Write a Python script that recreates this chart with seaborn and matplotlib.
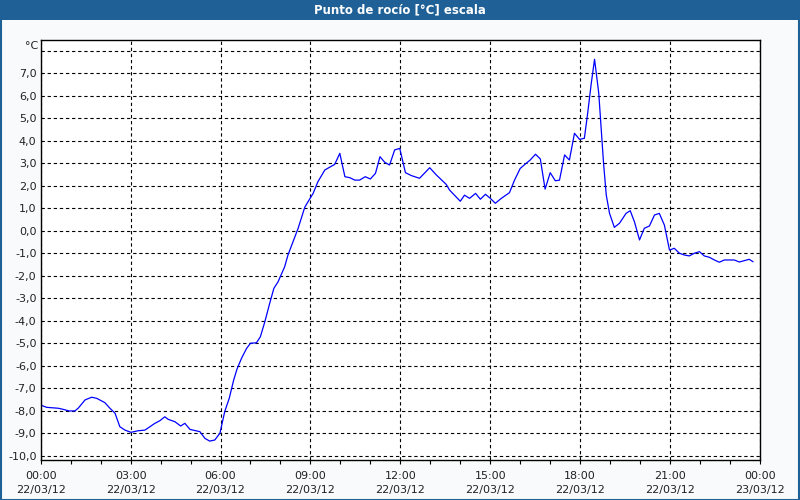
import matplotlib
matplotlib.use("Agg")
import matplotlib.pyplot as plt
from matplotlib.patches import Rectangle
from matplotlib.ticker import MultipleLocator, FixedLocator
import seaborn as sns
import pandas as pd

# ---- data (hours since 22/03/12 00:00, dew point in °C) ----
hours = [0.00, 0.20, 0.59, 0.75, 0.95, 1.14, 1.25, 1.48, 1.70, 1.87, 2.14, 2.31, 2.48, 2.64,
         2.81, 3.01, 3.25, 3.48, 3.81, 3.98, 4.14, 4.25, 4.48, 4.67, 4.81, 4.98, 5.31, 5.48,
         5.64, 5.81, 5.98, 6.14, 6.29, 6.44, 6.55, 6.70, 6.87, 7.00, 7.20, 7.33, 7.48, 7.64,
         7.78, 7.92, 8.14, 8.25, 8.42, 8.59, 8.81, 8.92, 9.09, 9.25, 9.48, 9.64, 9.81, 9.98,
         10.15, 10.31, 10.48, 10.64, 10.83, 11.00, 11.17, 11.32, 11.48, 11.64, 11.81, 11.98,
         12.17, 12.37, 12.64, 12.98, 13.20, 13.53, 13.64, 14.00, 14.14, 14.31, 14.51, 14.67,
         14.84, 15.00, 15.17, 15.37, 15.64, 15.81, 16.00, 16.20, 16.33, 16.51, 16.67, 16.83,
         17.00, 17.17, 17.31, 17.48, 17.64, 17.81, 17.98, 18.14, 18.25, 18.37, 18.48, 18.62,
         18.78, 18.87, 18.98, 19.14, 19.31, 19.53, 19.67, 19.81, 19.98, 20.14, 20.31, 20.48,
         20.64, 20.81, 20.98, 21.14, 21.31, 21.48, 21.64, 21.81, 21.98, 22.14, 22.31, 22.48,
         22.64, 22.81, 22.98, 23.14, 23.31, 23.48, 23.64, 23.77]
dew_point = [-7.76, -7.86, -7.90, -7.95, -8.02, -8.02, -7.90, -7.53, -7.41, -7.46, -7.65, -7.90,
             -8.12, -8.72, -8.87, -8.97, -8.90, -8.87, -8.57, -8.45, -8.28, -8.39, -8.50, -8.69,
             -8.57, -8.84, -8.94, -9.24, -9.36, -9.31, -9.01, -8.05, -7.46, -6.64, -6.16, -5.68,
             -5.24, -5.01, -4.99, -4.72, -4.05, -3.24, -2.57, -2.28, -1.61, -1.09, -0.50, 0.10,
             1.03, 1.28, 1.65, 2.17, 2.69, 2.81, 2.94, 3.43, 2.39, 2.35, 2.24, 2.24, 2.39, 2.29,
             2.54, 3.28, 3.03, 2.91, 3.58, 3.65, 2.57, 2.44, 2.32, 2.79, 2.47, 2.05, 1.80, 1.30,
             1.57, 1.43, 1.65, 1.39, 1.61, 1.43, 1.21, 1.43, 1.68, 2.24, 2.76, 2.99, 3.13, 3.39,
             3.18, 1.84, 2.57, 2.21, 2.24, 3.36, 3.13, 4.32, 4.05, 4.10, 5.21, 6.54, 7.61, 6.10,
             2.99, 1.58, 0.76, 0.14, 0.32, 0.76, 0.88, 0.39, -0.42, 0.10, 0.20, 0.69, 0.76, 0.24,
             -0.87, -0.79, -1.01, -1.09, -1.13, -1.01, -0.94, -1.13, -1.19, -1.31, -1.41, -1.31,
             -1.31, -1.31, -1.40, -1.34, -1.28, -1.39]

x_tick_hours = [0, 3, 6, 9, 12, 15, 18, 21, 24]
x_tick_labels = ["00:00\n22/03/12", "03:00\n22/03/12", "06:00\n22/03/12", "09:00\n22/03/12",
                 "12:00\n22/03/12", "15:00\n22/03/12", "18:00\n22/03/12", "21:00\n22/03/12",
                 "00:00\n23/03/12"]
y_tick_values = [-10, -9, -8, -7, -6, -5, -4, -3, -2, -1, 0, 1, 2, 3, 4, 5, 6, 7, 8]
y_tick_labels = ["-10,0", "-9,0", "-8,0", "-7,0", "-6,0", "-5,0", "-4,0", "-3,0", "-2,0",
                 "-1,0", "0,0", "1,0", "2,0", "3,0", "4,0", "5,0", "6,0", "7,0", ""]
title = "Punto de rocío [°C] escala"
unit = "°C"

sns.set_theme(style="white")
plt.rcParams['font.family'] = ['DejaVu Sans']

df = pd.DataFrame({"h": hours, "v": dew_point})

fig = plt.figure(figsize=(8, 5), dpi=100, facecolor="#F8FAFB")
W, H = 800, 500
ax = fig.add_axes([40.7 / W, 1 - 460 / H, (760 - 40.7) / W, (460 - 40) / H])
ax.set_facecolor("white")

sns.lineplot(data=df, x="h", y="v", ax=ax, color="#0000FF", linewidth=0.9)

ax.set_xlim(0, 24)
ax.set_ylim(-10.2, 8.467)

ax.xaxis.set_major_locator(FixedLocator(x_tick_hours))
ax.set_xticklabels(x_tick_labels, fontsize=8, color="#222222", linespacing=1.5)
ax.xaxis.set_minor_locator(MultipleLocator(1))
ax.tick_params(axis="x", which="both", direction="out", length=3, width=0.8,
               color="black", pad=5, bottom=True)
ax.yaxis.set_major_locator(FixedLocator(y_tick_values))
ax.set_yticklabels(y_tick_labels, fontsize=8, color="#222222")
ax.tick_params(axis="y", which="both", length=0, pad=3)

ax.grid(True, which="major", axis="both", color="black", linestyle=(0, (3, 2.5)),
        linewidth=0.8)
ax.set_xlabel("")
ax.set_ylabel("")
for s in ax.spines.values():
    s.set_visible(True)
    s.set_color("black")
    s.set_linewidth(1.0)

fig.text(38 / W, 1 - 46 / H, unit, ha="right", va="center", fontsize=8, color="#222222")

# title bar
fig.patches.append(Rectangle((0, 1 - 20 / H), 1, 20 / H, transform=fig.transFigure,
                             facecolor="#1F6197", edgecolor="none", zorder=0))
fig.text(0.5, 1 - 10 / H, title, ha="center", va="center", color="white",
         fontsize=8.5, fontweight="bold")
# outer frame
fig.patches.append(Rectangle((0.5 / W, 0.5 / H), 1 - 1.5 / W, 1 - 1.5 / H,
                             transform=fig.transFigure, facecolor="none",
                             edgecolor="#1F6197", linewidth=1.5, zorder=5))

fig.savefig("out.png", dpi=100, facecolor=fig.get_facecolor())
